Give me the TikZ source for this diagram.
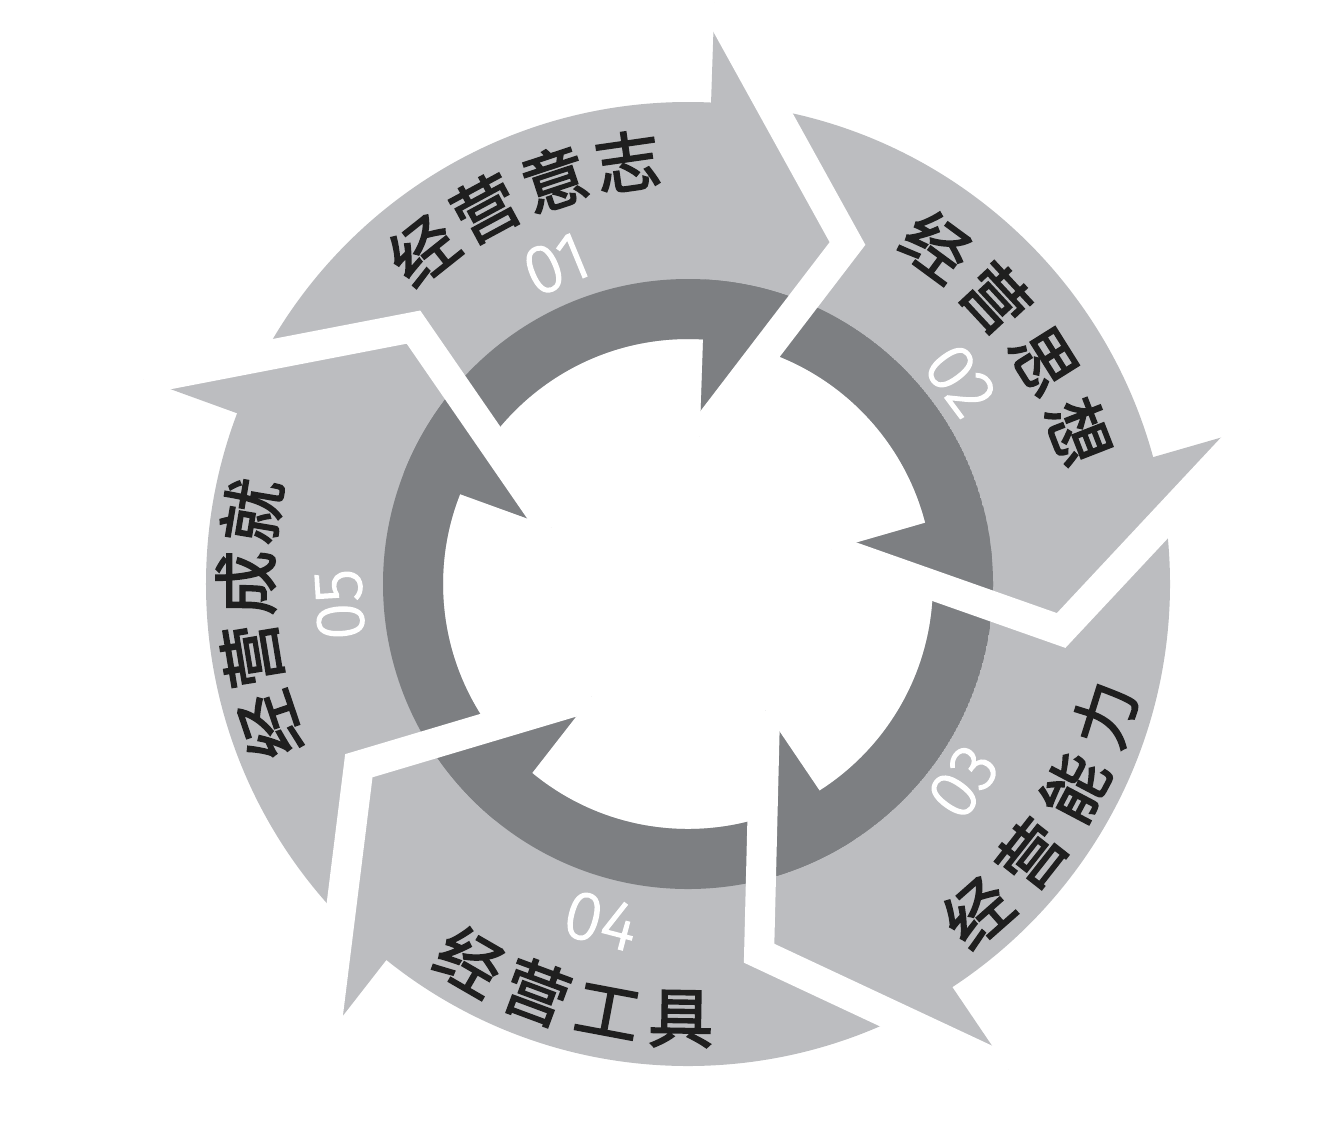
\documentclass[tikz,border=0pt]{standalone}
\usepackage{fontspec}
\usepackage{tikz}
\usetikzlibrary{calc}
\newfontfamily\cjkfont[FakeBold=2.5]{Noto Sans CJK SC}
\newfontfamily\numfont[FakeBold=2]{Fira Sans Light}
\definecolor{ringlight}{RGB}{188,189,192}
\definecolor{ringdark}{RGB}{125,127,130}
\tikzstyle{word} = [font=\cjkfont\fontsize{18.5}{20}\selectfont, text=black!88, inner sep=0pt]
\tikzstyle{number} = [font=\numfont\fontsize{19.5}{20}\selectfont, text=white, inner sep=0pt]
\tikzstyle{gap} = [draw=white, line width=0.3cm, line join=miter]

% one word bent round the ring: name, mid angle, radius, step, turn, characters
\newcommand{\ringword}[6]{%
	\foreach \ch [count=\i] in {#6} {
		\node[word, rotate={#2+#4*(2.5-\i)+#5}] (#1-\i) at ({#2+#4*(2.5-\i)}:#3) {\ch};
	}
}

\begin{document}
\begin{tikzpicture}
	\useasboundingbox (-6.88,-5.38) rectangle (6.38,5.84);
	
	% RING AND HEADS
	
	\fill[ringlight, even odd rule] (0,0) circle (4.82) (0,0) circle (2.45);
	\foreach \k in {0,...,4} {
		\fill[ringlight] ({86.4-72*\k-1}:1.48) -- ({64.9-72*\k}:3.76) -- ({86.4-72*\k+1}:5.82) -- cycle;
	}
	
	% DARK INNER BAND
	
	\begin{scope}
		\clip (0,0) circle (3.05);
		\fill[ringdark, even odd rule] (0,0) circle (3.05) (0,0) circle (2.45);
		\foreach \k in {0,...,4} {
			\fill[ringdark] ({86.4-72*\k-1}:1.48) -- ({64.9-72*\k}:3.76) -- ({86.4-72*\k+1}:5.82) -- cycle;
		}
	\end{scope}
	
	% GAPS
	
	\foreach \k in {0,...,4} {
		\draw[gap] ({86.4-72*\k-1}:1.48) -- ({64.9-72*\k}:3.76) -- ({86.4-72*\k+1}:5.82);
	}
	
	% LABELS
	
	\ringword{w1}{113.3}{4.27}{10.1}{-90}{经,营,意,志}
	\ringword{w2}{37.5}{4.20}{10.8}{-90}{经,营,思,想}
	\ringword{w3}{-33}{4.37}{-10.4}{90}{经,营,能,力}
	\ringword{w4}{-105.5}{4.35}{-9.7}{90}{经,营,工,具}
	\ringword{w5}{184.6}{4.42}{9.4}{-90}{经,营,成,就}
	
	\node[number, rotate=22.4] (n1) at (112.4:3.46) {01};
	\node[number, rotate=-53.2] (n2) at (36.8:3.40) {02};
	\node[number, rotate=54.3] (n3) at (-35.7:3.39) {03};
	\node[number, rotate=-14.5] (n4) at (-104.5:3.48) {04};
	\node[number, rotate=93.4] (n5) at (183.4:3.49) {05};
	
\end{tikzpicture}
\end{document}
